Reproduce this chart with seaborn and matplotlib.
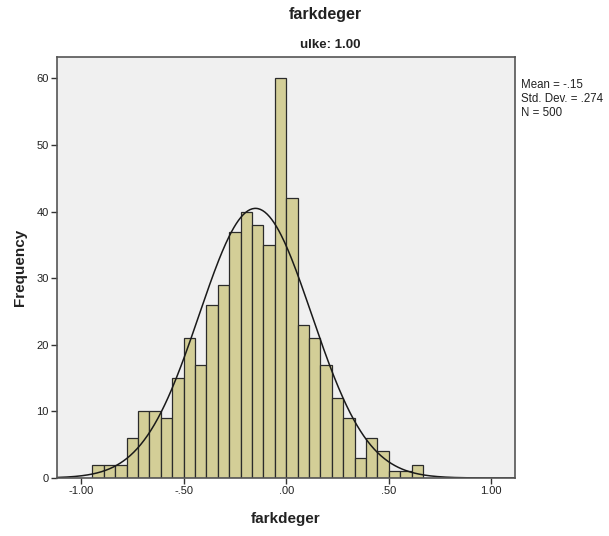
import numpy as np
import pandas as pd
import matplotlib
matplotlib.use("Agg")
import matplotlib.pyplot as plt
import seaborn as sns

# Histogram of farkdeger for ulke = 1.00
bin_width = 0.0556
n_left = 17  # bins left of zero
counts = [2, 2, 2, 6, 10, 10, 9, 15, 21, 17, 26, 29, 37, 40, 38, 35, 60,
          42, 23, 21, 17, 12, 9, 3, 6, 4, 1, 1, 2]
mean_val = -0.15
sd_val = 0.274
n_total = 500
x_ticks = [-1.0, -0.5, 0.0, 0.5, 1.0]
x_tick_labels = ["-1.00", "-.50", ".00", ".50", "1.00"]
y_ticks = [0, 10, 20, 30, 40, 50, 60]

edges = (np.arange(len(counts) + 1) - n_left) * bin_width
centers = (edges[:-1] + edges[1:]) / 2
df = pd.DataFrame({"farkdeger": centers, "count": counts})

sns.set_style("white")
plt.rcParams["font.family"] = ["Liberation Sans", "DejaVu Sans"]

fig = plt.figure(figsize=(6.09, 5.36), dpi=100)
ax = fig.add_axes([57 / 609, 58 / 536, 458 / 609, 421 / 536])
ax.set_facecolor("#F0F0F0")

sns.histplot(data=df, x="farkdeger", weights="count",
             binwidth=bin_width, binrange=(edges[0], edges[-1]), ax=ax,
             color="#D3CE97", edgecolor="#2b2b2b", linewidth=0.9, alpha=1.0)

# Normal curve scaled to the histogram
xs = np.linspace(-1.12, 1.12, 400)
ys = n_total * bin_width / (sd_val * np.sqrt(2 * np.pi)) * np.exp(-0.5 * ((xs - mean_val) / sd_val) ** 2)
sns.lineplot(x=xs, y=ys, ax=ax, color="#1a1a1a", linewidth=1.1)

ax.set_xlim(-1.118, 1.116)
ax.set_ylim(0, 63.2)
ax.set_xticks(x_ticks)
ax.set_xticklabels(x_tick_labels)
ax.set_yticks(y_ticks)
ax.tick_params(axis="both", direction="out", length=4.5, width=1, color="#333333",
               labelsize=8, labelcolor="#222222", pad=1.5,
               bottom=True, left=True)
for sp in ax.spines.values():
    sp.set_color("#555555")
    sp.set_linewidth(1.2)

ax.set_xlabel("farkdeger", fontsize=11, fontweight="bold", labelpad=11, color="#222222")
ax.set_ylabel("Frequency", fontsize=11, fontweight="bold", labelpad=7, color="#222222")

fig.text(325 / 609, 1 - 15 / 536, "farkdeger", ha="center", va="center",
         fontsize=11.5, fontweight="bold", color="#222222")
fig.text(330 / 609, 1 - 45 / 536, "ulke: 1.00", ha="center", va="center",
         fontsize=9.5, fontweight="bold", color="#222222")

fig.text(521 / 609, 1 - 99 / 536,
         "Mean = -.15\nStd. Dev. = .274\nN = 500",
         ha="left", va="center", fontsize=8.3, color="#222222", linespacing=1.2)

fig.savefig("out.png", dpi=100, facecolor="white")
